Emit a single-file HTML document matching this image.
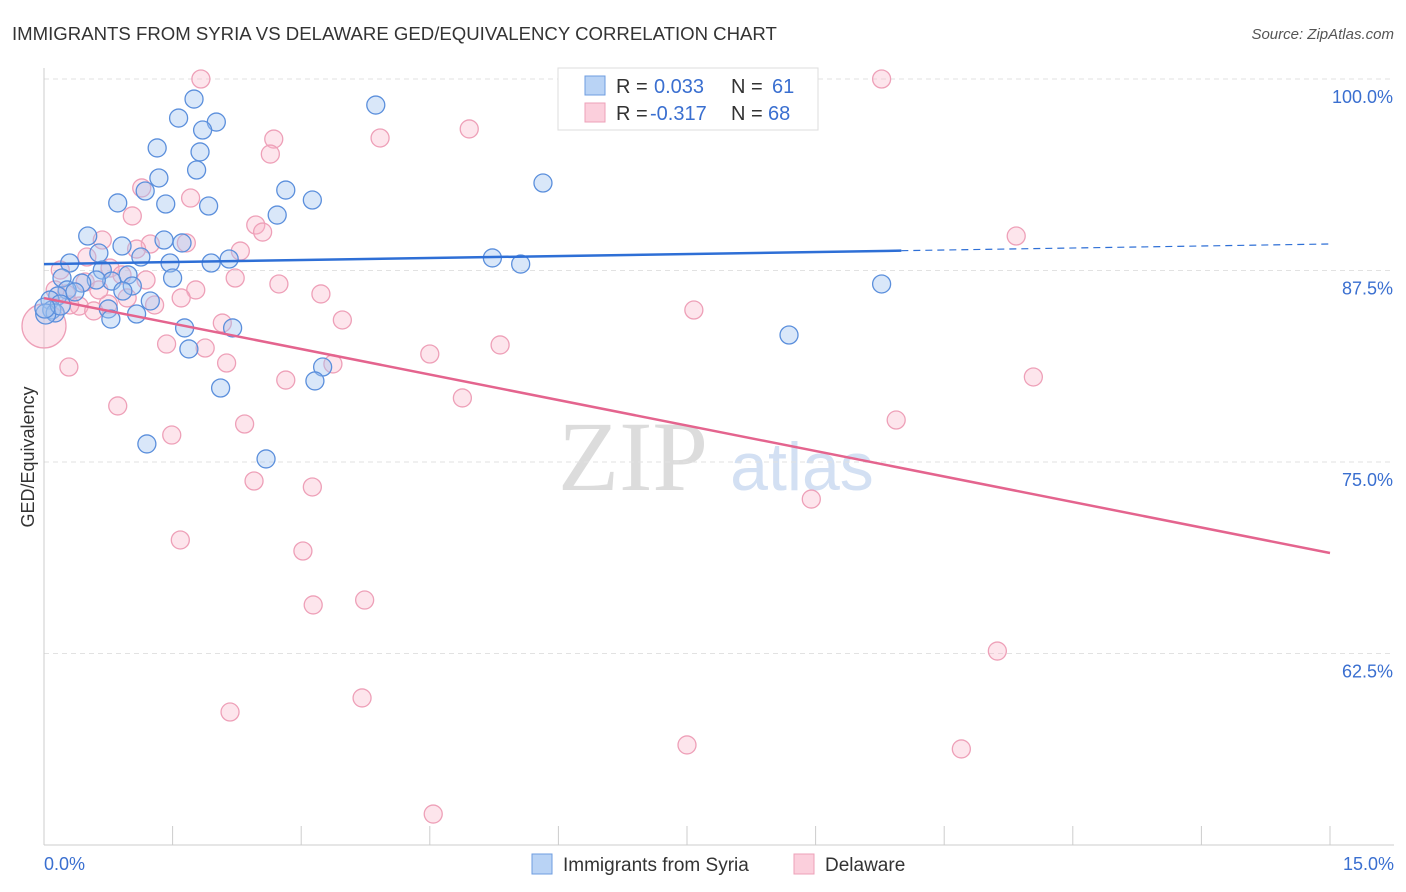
<!DOCTYPE html>
<html><head><meta charset="utf-8"><style>
body{margin:0;background:#fff;font-family:"Liberation Sans",sans-serif;}
svg{display:block}
</style></head><body>
<svg id="c" width="1406" height="892">
<text x="12" y="40" font-size="18.6" fill="#333">IMMIGRANTS FROM SYRIA VS DELAWARE GED/EQUIVALENCY CORRELATION CHART</text>
<text x="1394" y="39" font-size="15" fill="#555" text-anchor="end" font-style="italic">Source: ZipAtlas.com</text>
<text x="34" y="457" font-size="18" fill="#333" text-anchor="middle" transform="rotate(-90 34 457)">GED/Equivalency</text>
<g><text x="633" y="490" font-size="100" font-family="Liberation Serif,serif" fill="#dcdcdc" text-anchor="middle">ZIP</text><text x="802" y="490" font-size="68" fill="#d3e0f3" text-anchor="middle">atlas</text></g>
<g id="grid"></g><g id="pts"></g><g id="lines"></g>
<g>
<rect x="558" y="68" width="260" height="62" fill="#fff" stroke="#ddd"/>
<rect x="585" y="76" width="20" height="19" fill="#b9d3f5" stroke="#6e9de0"/>
<rect x="585" y="103" width="20" height="19" fill="#fbcfdc" stroke="#eea0b8"/>
<text x="616" y="93" font-size="20" fill="#333">R = <tspan x="654" fill="#3a6fd0">0.033</tspan><tspan x="731">N = </tspan><tspan x="772" fill="#3a6fd0">61</tspan></text>
<text x="616" y="120" font-size="20" fill="#333">R = <tspan x="650" fill="#3a6fd0">-0.317</tspan><tspan x="731">N = </tspan><tspan x="768" fill="#3a6fd0">68</tspan></text>
</g>
<g>
<rect x="532" y="854" width="20" height="20" fill="#b9d3f5" stroke="#6e9de0"/>
<text x="563" y="871" font-size="19" fill="#333">Immigrants from Syria</text>
<rect x="794" y="854" width="20" height="20" fill="#fbcfdc" stroke="#eea0b8"/>
<text x="825" y="871" font-size="19" fill="#333">Delaware</text>
</g>
</svg>
<script>
const yTicks=[100,87.5,75,62.5];
const xTickLabels=["0.0%","15.0%"];
const blueX=[1.75,3.87,1.57,2.01,1.85,1.32,1.82,1.34,1.78,5.82,1.18,0.86,1.42,1.92,2.82,3.13,2.72,0.51,1.40,1.61,0.91,0.64,1.13,5.23,0.30,1.47,1.95,2.16,5.56,0.68,0.98,0.21,0.79,1.50,0.61,0.44,1.03,9.77,0.27,0.36,0.92,0.16,1.24,0.07,0.75,1.08,0.09,0.13,0.78,1.64,2.20,8.69,1.69,3.25,3.16,2.06,1.20,2.59,0.02,0.19,0.01];
const blueY=[98.69,98.30,97.45,97.19,96.67,95.50,95.24,93.54,94.06,93.21,92.69,91.91,91.84,91.71,92.75,92.10,91.12,89.75,89.49,89.30,89.10,88.64,88.38,88.32,87.99,87.99,87.99,88.25,87.92,87.53,87.21,87.01,86.81,87.01,86.88,86.68,86.49,86.62,86.23,86.10,86.16,85.84,85.51,85.57,84.99,84.66,84.92,84.73,84.33,83.75,83.75,83.29,82.38,81.20,80.29,79.83,76.18,75.20,84.66,85.25,85.05];
const pinkX=[1.83,9.77,4.96,3.92,2.68,2.64,1.14,1.71,1.03,2.47,2.55,0.68,11.34,1.66,2.29,1.24,1.08,0.50,0.19,0.77,0.91,2.23,1.19,2.74,1.77,3.23,1.60,0.26,0.97,0.41,0.75,0.58,7.58,3.48,2.08,1.43,1.88,5.32,4.50,3.37,2.13,0.29,2.82,11.54,4.88,0.86,9.94,2.34,1.49,2.45,3.13,8.95,1.59,3.02,3.14,3.74,11.12,2.17,3.71,7.50,10.70,4.54,0,0.13,0.48,0.30,1.29,0.64];
const pinkY=[100,100,96.74,96.15,96.08,95.10,92.89,92.23,91.06,90.47,90.01,89.49,89.75,89.30,88.77,89.23,88.90,88.38,87.53,87.66,87.21,87.01,86.88,86.62,86.23,85.97,85.71,85.97,85.71,85.18,85.31,84.86,84.92,84.27,84.07,82.70,82.44,82.64,82.05,81.40,81.46,81.20,80.35,80.55,79.18,78.66,77.74,77.48,76.76,73.76,73.37,72.58,69.91,69.19,65.67,65.99,62.66,58.68,59.60,56.53,56.27,52.02,83.88,86.23,86.75,85.25,85.25,86.23];
const blueFit=[87.92,89.23];
const pinkFit=[85.70,69.06];
const NS="http://www.w3.org/2000/svg";
const sx=v=>44+v/15*1286;
const sy=v=>79+(100-v)/12.5*191.5;
function mk(t,a,p){const e=document.createElementNS(NS,t);for(const k in a)e.setAttribute(k,a[k]);p.appendChild(e);return e;}
const grid=document.getElementById('grid');
yTicks.forEach(t=>{
 const l=mk('line',{x1:44,x2:1394,y1:sy(t),y2:sy(t),stroke:'#e2e2e2','stroke-dasharray':'5,4'},grid);
 
 
 const tx=mk('text',{x:1393,y:sy(t)+24,'font-size':18,fill:'#3a6fd0','text-anchor':'end'},grid);
 tx.textContent=t.toFixed(1)+'%';
 
 
});
mk('line',{x1:44,x2:44,y1:68,y2:845,stroke:'#ccc'},grid);
mk('line',{x1:44,x2:1394,y1:845,y2:845,stroke:'#ccc'},grid);
for(let i=0;i<=10;i++){const x=sx(i*1.5);mk('line',{x1:x,x2:x,y1:826,y2:845,stroke:'#ccc'},grid);}
const xl0=mk('text',{x:44,y:870,'font-size':18,fill:'#3a6fd0'},grid);xl0.textContent=xTickLabels[0];


const xl1=mk('text',{x:1394,y:870,'font-size':18,fill:'#3a6fd0','text-anchor':'end'},grid);xl1.textContent=xTickLabels[1];


const pts=document.getElementById('pts');
pinkX.forEach((x,i)=>{
 const c=mk('circle',{cx:sx(x),cy:sy(pinkY[i]),r:(x===0?22:9),fill:'rgba(248,180,200,0.35)',stroke:'#eea0b8','stroke-width':1.3},pts);
 
 
});
blueX.forEach((x,i)=>{
 const c=mk('circle',{cx:sx(x),cy:sy(blueY[i]),r:(i>=58?10:9),fill:'rgba(160,195,240,0.4)',stroke:'#5b8fdc','stroke-width':1.3},pts);
 
 
});
const lines=document.getElementById('lines');
const bAt=v=>blueFit[0]+(blueFit[1]-blueFit[0])*v/15;
const b1=mk('line',{x1:sx(0),y1:sy(bAt(0)),x2:sx(10),y2:sy(bAt(10)),stroke:'#2e6fd6','stroke-width':2.5},lines);


const b2=mk('line',{x1:sx(10),y1:sy(bAt(10)),x2:sx(15),y2:sy(bAt(15)),stroke:'#2e6fd6','stroke-width':1.2,'stroke-dasharray':'7,5'},lines);


const p1=mk('line',{x1:sx(0),y1:sy(pinkFit[0]),x2:sx(15),y2:sy(pinkFit[1]),stroke:'#e4648e','stroke-width':2.5},lines);


</script>
</body></html>
